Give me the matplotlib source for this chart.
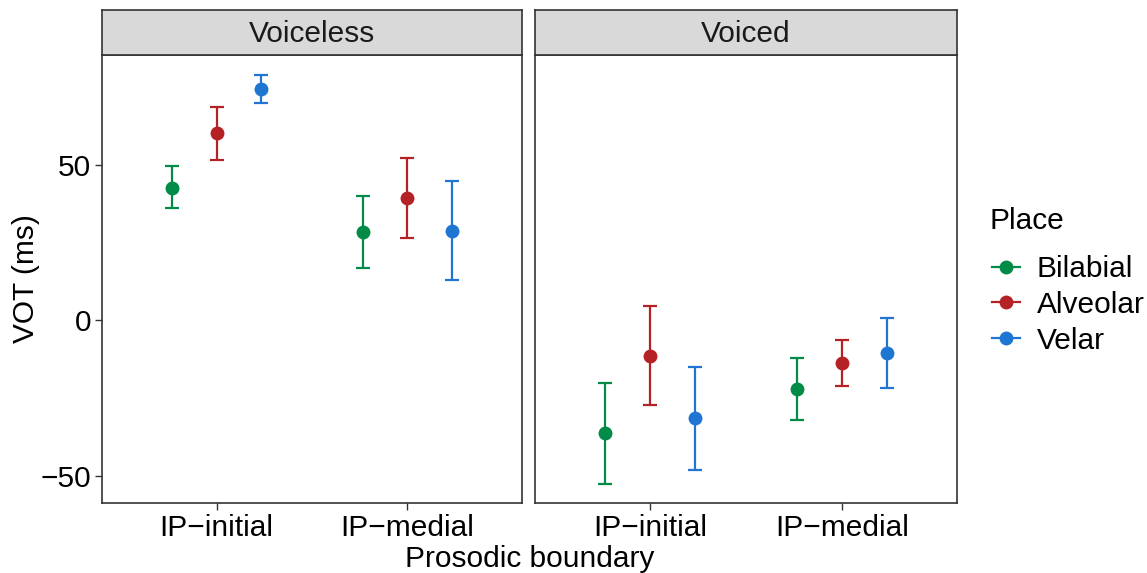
import matplotlib
matplotlib.use("Agg")
import matplotlib.pyplot as plt
from matplotlib.lines import Line2D
import numpy as np

plt.rcParams['font.family'] = ['Liberation Sans', 'DejaVu Sans']

# Mean VOT and error bar limits per voicing / boundary / place
panels = ['Voiceless', 'Voiced']
boundaries = ['IP\u2212initial', 'IP\u2212medial']
places = ['Bilabial', 'Alveolar', 'Velar']
colors = ['#008B47', '#B52226', '#1F76D2']

means = {
    'Voiceless': {'Bilabial': [42.6, 28.4], 'Alveolar': [60.0, 39.2], 'Velar': [74.2, 28.7]},
    'Voiced': {'Bilabial': [-36.3, -22.2], 'Alveolar': [-11.6, -13.8], 'Velar': [-31.4, -10.6]},
}
lower = {
    'Voiceless': {'Bilabial': [36.0, 16.7], 'Alveolar': [51.5, 26.4], 'Velar': [69.9, 12.9]},
    'Voiced': {'Bilabial': [-52.6, -32.2], 'Alveolar': [-27.3, -21.2], 'Velar': [-48.2, -21.9]},
}
upper = {
    'Voiceless': {'Bilabial': [49.4, 39.9], 'Alveolar': [68.5, 52.1], 'Velar': [78.7, 44.7]},
    'Voiced': {'Bilabial': [-20.3, -12.2], 'Alveolar': [4.5, -6.4], 'Velar': [-15.1, 0.6]},
}

fs = 21.5
fig = plt.figure(figsize=(11.47, 5.73), dpi=100)
W, H = 1147, 573
panel_x = [(102, 522), (535, 957)]
top, bottom, strip_top = 55, 503, 10

x = np.arange(1, len(boundaries) + 1)
dodge = 0.7 / 3

axes = []
for p, (x0, x1) in zip(panels, panel_x):
    ax = fig.add_axes([x0 / W, 1 - bottom / H, (x1 - x0) / W, (bottom - top) / H])
    for i, (pl, c) in enumerate(zip(places, colors)):
        xs = x + (i - 1) * dodge
        m = np.array(means[p][pl])
        lo = np.array(lower[p][pl])
        hi = np.array(upper[p][pl])
        ax.errorbar(xs, m, yerr=[m - lo, hi - m], fmt='none', ecolor=c,
                    elinewidth=1.6, capsize=5, capthick=1.6)
        ax.plot(xs, m, 'o', color=c, markersize=10, markeredgewidth=0)
    ax.set_xlim(0.4, 2.6)
    ax.set_ylim(-58.8, 85.2)
    ax.set_xticks(x)
    ax.set_xticklabels(boundaries, fontsize=fs)
    ax.set_yticks([-50, 0, 50])
    ax.set_yticklabels(['\u221250', '0', '50'], fontsize=fs)
    ax.tick_params(length=5, width=1, color='#333333', labelcolor='black', pad=3)
    for s in ax.spines.values():
        s.set_color('#333333')
        s.set_linewidth(1.2)
    if p != panels[0]:
        ax.tick_params(axis='y', left=False, labelleft=False)
    # facet strip
    sax = fig.add_axes([x0 / W, 1 - top / H, (x1 - x0) / W, (top - strip_top) / H])
    sax.set_facecolor('#D9D9D9')
    sax.set_xticks([])
    sax.set_yticks([])
    for s in sax.spines.values():
        s.set_color('#333333')
        s.set_linewidth(1.2)
    sax.text(0.5, 0.46, p, ha='center', va='center', fontsize=fs, color='#1A1A1A',
             transform=sax.transAxes)
    axes.append(ax)

axes[0].set_ylabel('VOT (ms)', fontsize=fs, labelpad=0)
fig.text((102 + 957) / 2 / W, 1 - 559 / H, 'Prosodic boundary', ha='center', va='center',
         fontsize=fs)

# legend: title drawn separately to get the ggplot-style gap
fig.text(989 / W, 1 - 221 / H, 'Place', ha='left', va='center', fontsize=fs)
handles = [Line2D([], [], color=c, marker='o', markersize=10, markeredgewidth=0,
                  linewidth=1.6) for c in colors]
fig.legend(handles, places, loc='upper left',
           bbox_to_anchor=(986 / W, 1 - 249 / H), frameon=False, fontsize=fs,
           handlelength=0.95, handletextpad=0.55, labelspacing=0.26,
           borderpad=0.2, borderaxespad=0)

fig.savefig('out.png', dpi=100)
